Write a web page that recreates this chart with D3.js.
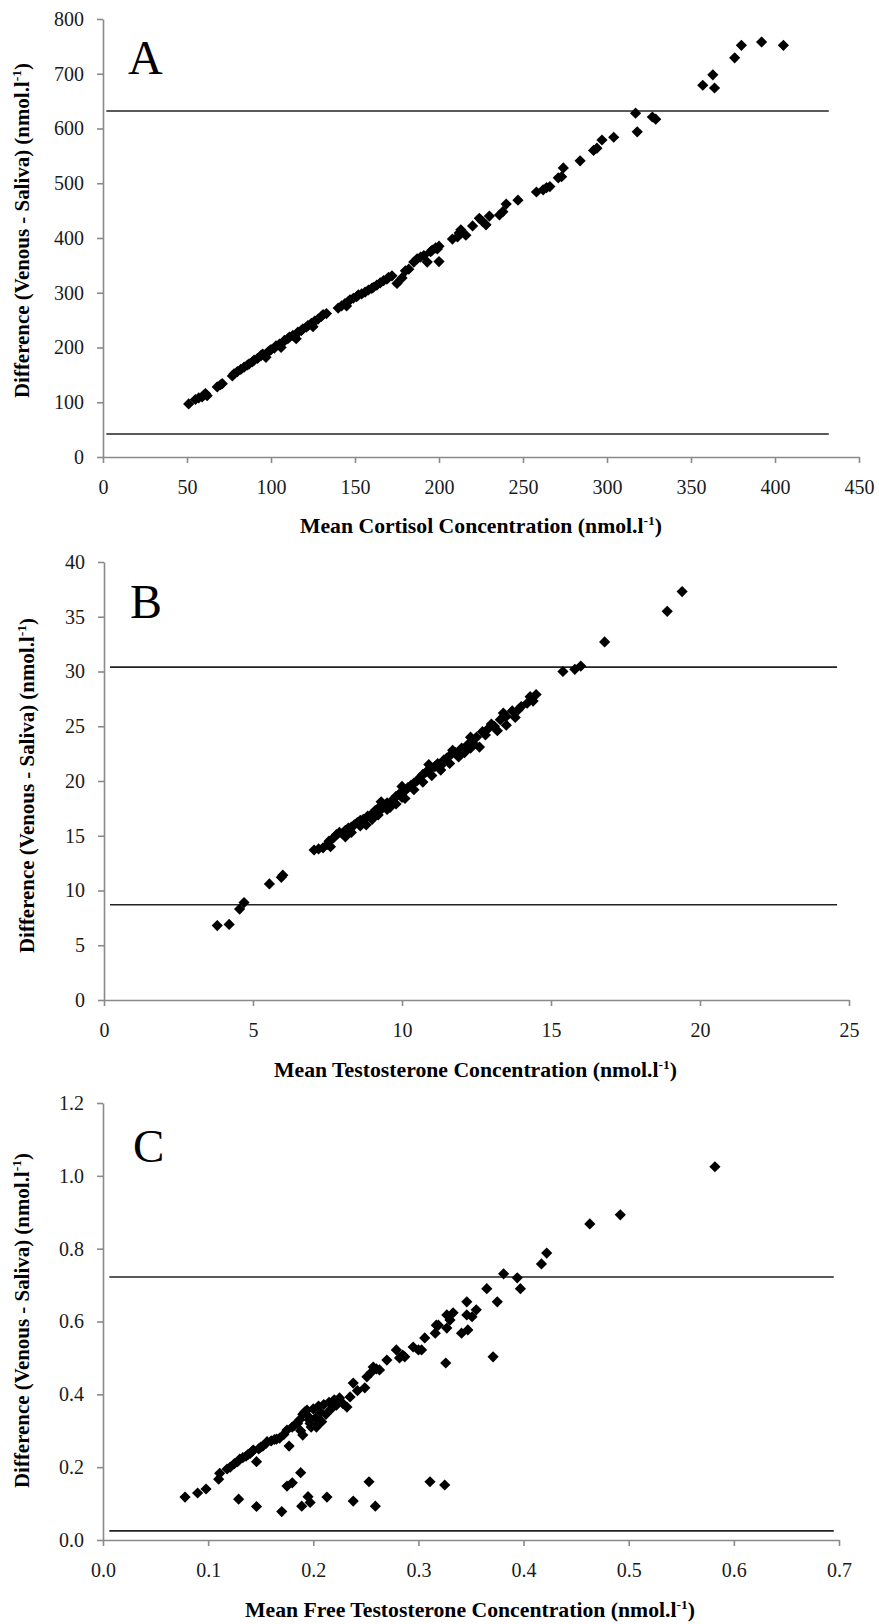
<!DOCTYPE html>
<html><head><meta charset="utf-8">
<script src="https://cdn.jsdelivr.net/npm/d3@7"></script>
<style>
html,body{margin:0;padding:0;background:#fff;}
svg{display:block;}
</style></head>
<body>
<script>
// ---------- DATA ----------
const cortisolPoints = [
[51,97],[55,105],[57,108],[59,110],[60,113],[61,116],[62,112],[68,128],[70,132],[71,134],[77,148],[78,152],[80,156],[82,160],[84,164],[86,168],[87,170],[89,174],[90,177],[92,180],[94,185],[95,188],[96,186],[97,182],[98,191],[99,194],[100,196],[102,199],[103,203],[105,206],[106,200],[107,209],[108,213],[110,216],[111,219],[113,222],[114,220],[115,216],[116,228],[118,231],[119,234],[121,237],[122,240],[124,244],[125,238],[126,248],[128,252],[130,257],[131,260],[133,262],[140,272],[142,276],[144,280],[145,276],[146,284],[147,287],[149,290],[151,293],[152,296],[154,298],[156,301],[158,305],[160,308],[161,310],[163,314],[165,318],[167,322],[169,325],[170,328],[172,331],[175,317],[178,327],[180,340],[182,343],[185,356],[187,362],[189,365],[191,368],[193,356],[195,375],[196,378],[198,382],[199,380],[200,385],[200,357],[208,398],[211,402],[212,409],[213,415],[216,405],[220,422],[224,436],[226,430],[228,424],[230,440],[236,442],[238,448],[240,462],[247,469],[258,484],[262,488],[264,492],[266,494],[271,510],[273,512],[274,528],[284,541],[292,560],[294,564],[297,579],[304,584],[317,628],[318,594],[327,621],[329,617],[357,679],[363,698],[364,674],[376,729],[380,752],[392,758],[405,752]
];
const cortisolLimits = [632, 42];
const cortisolXTicks = [0,50,100,150,200,250,300,350,400,450];
const cortisolYTicks = [0,100,200,300,400,500,600,700,800];

const testoPoints = [
[3.8,6.8],[4.2,6.9],[4.55,8.3],[4.7,8.9],[5.55,10.6],[5.95,11.2],[6.0,11.4],[7.05,13.7],[7.2,13.8],[7.35,13.9],[7.5,14.2],[7.55,14.5],[7.6,14.0],[7.7,14.8],[7.8,15.1],[7.9,15.3],[8.0,15.2],[8.1,15.5],[8.1,14.9],[8.2,15.7],[8.3,15.8],[8.3,15.3],[8.4,16.0],[8.5,16.2],[8.6,16.4],[8.6,15.9],[8.7,16.5],[8.8,16.0],[8.85,16.8],[9.0,17.0],[9.0,16.5],[9.1,17.3],[9.2,17.5],[9.2,16.9],[9.3,17.4],[9.3,18.1],[9.4,17.8],[9.5,18.0],[9.5,17.4],[9.6,17.6],[9.7,18.3],[9.8,18.6],[9.8,17.9],[9.9,18.8],[10.0,18.5],[10.0,19.5],[10.1,19.1],[10.1,18.4],[10.2,19.4],[10.3,19.6],[10.4,19.8],[10.4,19.2],[10.5,20.0],[10.6,20.3],[10.7,20.6],[10.7,19.9],[10.8,20.8],[10.9,21.0],[10.9,21.5],[11.0,21.2],[11.0,20.5],[11.1,21.3],[11.2,21.6],[11.3,21.0],[11.3,21.4],[11.4,21.9],[11.5,22.1],[11.6,22.3],[11.6,21.6],[11.7,22.8],[11.8,22.6],[11.9,22.2],[12.0,23.0],[12.1,22.6],[12.2,23.3],[12.3,23.0],[12.3,24.0],[12.4,23.4],[12.5,24.0],[12.6,23.1],[12.7,24.5],[12.8,24.2],[12.9,24.8],[13.0,25.2],[13.1,25.0],[13.2,24.6],[13.3,25.6],[13.4,26.2],[13.5,25.9],[13.5,25.1],[13.7,26.4],[13.8,25.8],[13.9,26.5],[14.0,26.8],[14.2,27.1],[14.3,27.7],[14.4,27.3],[14.5,27.9],[15.4,30.0],[15.8,30.2],[16.0,30.5],[16.8,32.7],[18.9,35.5],[19.4,37.3]
];
const testoLimits = [30.4, 8.7];
const testoXTicks = [0,5,10,15,20,25];
const testoYTicks = [0,5,10,15,20,25,30,35,40];

const freePoints = [
[0.078,0.118],[0.090,0.129],[0.098,0.140],[0.110,0.167],[0.111,0.183],[0.118,0.195],[0.121,0.200],[0.125,0.210],[0.128,0.215],[0.130,0.222],[0.133,0.226],[0.136,0.230],[0.138,0.235],[0.140,0.238],[0.142,0.244],[0.143,0.247],[0.146,0.215],[0.148,0.250],[0.150,0.255],[0.152,0.258],[0.155,0.265],[0.156,0.270],[0.160,0.272],[0.163,0.276],[0.165,0.277],[0.168,0.280],[0.172,0.290],[0.175,0.302],[0.177,0.258],[0.180,0.310],[0.182,0.315],[0.185,0.320],[0.187,0.330],[0.188,0.300],[0.190,0.288],[0.190,0.345],[0.192,0.352],[0.194,0.357],[0.195,0.340],[0.196,0.330],[0.197,0.320],[0.198,0.310],[0.200,0.360],[0.202,0.335],[0.203,0.310],[0.205,0.368],[0.207,0.350],[0.208,0.325],[0.210,0.372],[0.212,0.345],[0.215,0.378],[0.217,0.360],[0.219,0.376],[0.220,0.385],[0.222,0.370],[0.225,0.390],[0.228,0.375],[0.232,0.365],[0.235,0.393],[0.238,0.431],[0.242,0.410],[0.249,0.418],[0.251,0.448],[0.255,0.460],[0.257,0.475],[0.260,0.470],[0.263,0.467],[0.270,0.494],[0.279,0.522],[0.282,0.500],[0.285,0.508],[0.287,0.503],[0.295,0.530],[0.300,0.522],[0.303,0.522],[0.306,0.555],[0.316,0.568],[0.317,0.590],[0.319,0.590],[0.326,0.486],[0.327,0.582],[0.327,0.618],[0.330,0.604],[0.333,0.624],[0.341,0.568],[0.346,0.618],[0.346,0.654],[0.347,0.577],[0.351,0.613],[0.355,0.632],[0.365,0.690],[0.371,0.503],[0.375,0.654],[0.381,0.731],[0.394,0.720],[0.397,0.690],[0.417,0.758],[0.422,0.788],[0.463,0.868],[0.492,0.893],[0.582,1.025],
[0.129,0.112],[0.146,0.092],[0.170,0.078],[0.175,0.148],[0.180,0.157],[0.188,0.185],[0.189,0.093],[0.195,0.119],[0.197,0.103],[0.213,0.118],[0.238,0.107],[0.253,0.160],[0.259,0.093],[0.311,0.160],[0.325,0.151]
];
const freeLimits = [0.722, 0.025];
const freeXTicks = [0,0.1,0.2,0.3,0.4,0.5,0.6,0.7];
const freeYTicks = [0,0.2,0.4,0.6,0.8,1.0,1.2];

const panelLetters = ["A","B","C"];
const xTitles = ["Mean Cortisol Concentration", "Mean Testosterone Concentration", "Mean Free Testosterone Concentration"];
const yTitle = "Difference (Venous - Saliva)";

// ---------- LAYOUT ----------
const W = 879, H = 1624;
const serif = "'Liberation Serif','Times New Roman',serif";
const panels = [
  {pts: cortisolPoints, limits: cortisolLimits, xt: cortisolXTicks, yt: cortisolYTicks, fmt: d3.format("d"),
   xdom:[0,450], ydom:[0,800], xr:[103,859], yr:[457,19], limX:[2,432],
   letter:{x:128,y:74,size:48}, xtitle:{cx:481,y:533,len:362}, ytitle:{x:29,cy:230.5,len:335}},
  {pts: testoPoints, limits: testoLimits, xt: testoXTicks, yt: testoYTicks, fmt: d3.format("d"),
   xdom:[0,25], ydom:[0,40], xr:[104,849], yr:[1000,562], limX:[0.2,24.6],
   letter:{x:130,y:618,size:48}, xtitle:{cx:475.5,y:1077,len:403}, ytitle:{x:34,cy:785.5,len:335}},
  {pts: freePoints, limits: freeLimits, xt: freeXTicks, yt: freeYTicks, fmt: d3.format(".1f"),
   xdom:[0,0.7], ydom:[0,1.2], xr:[103,839], yr:[1540,1103], limX:[0.006,0.695],
   letter:{x:133,y:1162,size:47}, xtitle:{cx:470,y:1617,len:450}, ytitle:{x:29,cy:1320.5,len:335}}
];

const svg = d3.select("body").append("svg").attr("width", W).attr("height", H)
  .style("font-family", serif);

const diamond = "M0,-5.6L5.6,0L0,5.6L-5.6,0Z";

panels.forEach((p, i) => {
  const x = d3.scaleLinear().domain(p.xdom).range(p.xr);
  const y = d3.scaleLinear().domain(p.ydom).range(p.yr);
  const g = svg.append("g");

  // axes
  const ax = g.append("g").attr("transform", `translate(0,${p.yr[0]})`)
    .call(d3.axisBottom(x).tickValues(p.xt).tickFormat(p.fmt).tickSize(6).tickPadding(17).tickSizeOuter(0));
  const ay = g.append("g").attr("transform", `translate(${p.xr[0]},0)`)
    .call(d3.axisLeft(y).tickValues(p.yt).tickFormat(p.fmt).tickSize(6).tickPadding(13).tickSizeOuter(0));
  [ax, ay].forEach(a => {
    a.attr("font-family", serif);
    a.select(".domain").attr("stroke", "#8a8a8a").attr("stroke-width", 1.6);
    a.selectAll(".tick line").attr("stroke", "#8a8a8a").attr("stroke-width", 1.6);
    a.selectAll(".tick text").attr("fill", "#1a1a1a").style("font-size", "20px").style("font-family", serif);
  });

  // limit lines
  g.selectAll("line.lim").data(p.limits).enter().append("line")
    .attr("class","lim")
    .attr("x1", x(p.limX[0])).attr("x2", x(p.limX[1]))
    .attr("y1", d => y(d)).attr("y2", d => y(d))
    .attr("stroke", "#222").attr("stroke-width", 1.6);

  // points
  g.selectAll("path.pt").data(p.pts).enter().append("path")
    .attr("class","pt")
    .attr("d", diamond)
    .attr("transform", d => `translate(${x(d[0])},${y(d[1])})`)
    .attr("fill", "#000");

  // panel letter
  g.append("text").attr("x", p.letter.x).attr("y", p.letter.y)
    .style("font-size", p.letter.size + "px").attr("fill", "#000").text(panelLetters[i]);

  // x title
  const xt = g.append("text").attr("x", p.xtitle.cx).attr("y", p.xtitle.y)
    .attr("text-anchor", "middle").style("font-size", "21px").style("font-weight", "bold")
    .attr("textLength", p.xtitle.len).attr("lengthAdjust", "spacingAndGlyphs").attr("fill", "#000");
  xt.append("tspan").text(xTitles[i] + "  (nmol.l");
  xt.append("tspan").attr("dy", -8).style("font-size", "13px").text("-1");
  xt.append("tspan").attr("dy", 8).text(")");

  // y title
  const yt = g.append("text")
    .attr("transform", `translate(${p.ytitle.x},${p.ytitle.cy}) rotate(-90)`)
    .attr("text-anchor", "middle").style("font-size", "20px").style("font-weight", "bold")
    .attr("textLength", p.ytitle.len).attr("lengthAdjust", "spacingAndGlyphs").attr("fill", "#000");
  yt.append("tspan").text(yTitle + " (nmol.l");
  yt.append("tspan").attr("dy", -8).style("font-size", "13px").text("-1");
  yt.append("tspan").attr("dy", 8).text(")");
});
</script>
</body></html>
